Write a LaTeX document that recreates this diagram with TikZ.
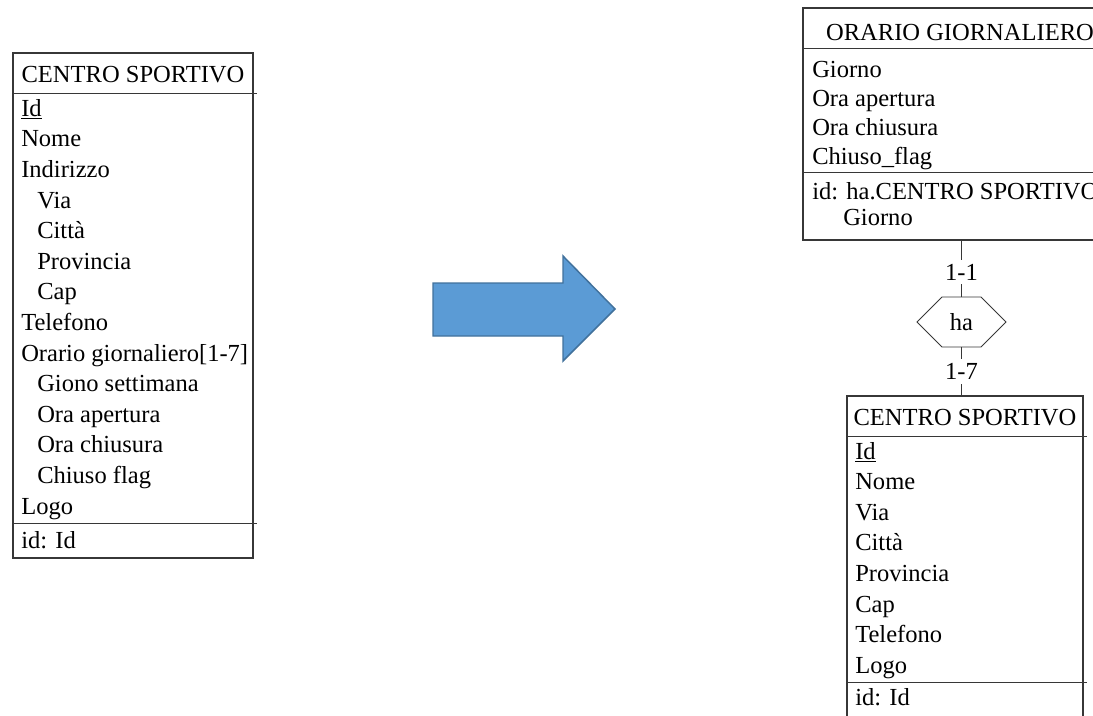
\documentclass[tikz,border=0pt]{standalone}
\usepackage{fontspec}
\setmainfont{Liberation Serif}
\usepackage{tikz}
\usetikzlibrary{shapes,positioning,calc,fit}
\definecolor{arrowblue}{RGB}{91,155,213}
\definecolor{arrowedge}{RGB}{65,113,156}
\definecolor{linegray}{RGB}{55,55,55}

\begin{document}
\begin{tikzpicture}[x=0.75pt, y=-0.75pt, font=\fontsize{18.4}{22}\selectfont]
    \tikzstyle{entity} = [rectangle, draw=linegray, line width=0.8pt, inner sep=0pt]
    \tikzstyle{sep} = [draw=linegray, line width=0.8pt]
    \tikzstyle{attr} = [anchor=base west, inner sep=0pt]
    \tikzstyle{title} = [anchor=base, inner sep=0pt]
    \tikzstyle{rel} = [signal, signal to=east and west, signal pointer angle=90, draw=linegray, line width=0.6pt, minimum width=66.75pt, minimum height=37.5pt, inner sep=0pt]
    \tikzstyle{link} = [draw=linegray, line width=0.6pt]
    \tikzstyle{card} = [fill=white, inner sep=3pt]
    \tikzstyle{bigarrow} = [fill=arrowblue, draw=arrowedge, line width=1.1pt]

    \useasboundingbox (0,0) rectangle (1093,715);
    \clip (0,0) rectangle (1093,715);

    % Before: CENTRO SPORTIVO with nested attributes
    \node[entity, fit={(13,53) (253,558)}] (cs) {};
    \node[title] (cs-title) at ($(cs.north)+(0,30)$) {CENTRO SPORTIVO};
    \draw[sep] (cs.north west) ++(0,41) -- ++(245,0);
    \draw[sep] (cs.south west) ++(0,-35) -- ++(245,0);
    \foreach \txt [count=\i from 0] in {\underline{Id}, Nome, Indirizzo, \hspace*{12pt}Via, \hspace*{12pt}Città, \hspace*{12pt}Provincia, \hspace*{12pt}Cap, Telefono, Orario giornaliero[1-7], \hspace*{12pt}Giono settimana, \hspace*{12pt}Ora apertura, \hspace*{12pt}Ora chiusura, \hspace*{12pt}Chiuso flag, Logo}
        \node[attr] (cs-attr-\i) at (21, 116.3+30.6*\i) {\txt};
    \node[attr] (cs-id) at (21, 548) {id: Id};

    % Transformation
    \draw[bigarrow] (433,283) -- (563,283) -- (563,256) -- (615,309) -- (563,361) -- (563,336) -- (433,336) -- cycle;

    % After: ORARIO GIORNALIERO
    \node[entity, fit={(803,8) (1117,240)}] (og) {};
    \node[title] (og-title) at ($(og.north)+(0,33)$) {ORARIO GIORNALIERO};
    \draw[sep] (og.north west) ++(0,41) -- ++(320,0);
    \draw[sep] (og.north west) ++(0,165) -- ++(320,0);
    \foreach \txt [count=\i from 0] in {Giorno, Ora apertura, Ora chiusura, Chiuso\_flag}
        \node[attr] (og-attr-\i) at (812, 77+29*\i) {\txt};
    \node[attr] (og-id) at (812, 199) {id: ha.CENTRO SPORTIVO};
    \node[attr] (og-id2) at (843, 225) {Giorno};

    % After: CENTRO SPORTIVO
    \node[entity, fit={(847,396) (1083,760)}] (cs2) {};
    \node[title] (cs2-title) at ($(cs2.north)+(0,30)$) {CENTRO SPORTIVO};
    \draw[sep] (cs2.north west) ++(0,41) -- ++(241,0);
    \draw[sep] (cs2.north west) ++(0,287) -- ++(241,0);
    \foreach \txt [count=\i from 0] in {\underline{Id}, Nome, Via, Città, Provincia, Cap, Telefono, Logo}
        \node[attr] (cs2-attr-\i) at (855, 459+30.6*\i) {\txt};
    \node[attr] (cs2-id) at (855, 705) {id: Id};

    % Relationship
    \node[rel] (ha) at (961.5,322) {ha};
    \draw[link] (ha.north |- og.south) -- node[card, pos=0.56] {1-1} (ha.north);
    \draw[link] (ha.south) -- node[card, pos=0.5] {1-7} (ha.south |- cs2.north);
\end{tikzpicture}
\end{document}
